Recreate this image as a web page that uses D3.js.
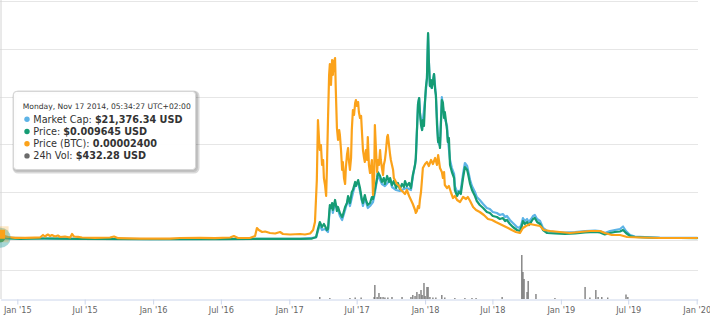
<!DOCTYPE html>
<html>
<head>
<meta charset="utf-8">
<script src="https://cdn.jsdelivr.net/npm/d3@7"></script>
<style>
  html, body { margin: 0; padding: 0; background: #fff; }
  svg { display: block; font-family: "DejaVu Sans", Verdana, sans-serif; }
</style>
</head>
<body>
<svg id="chart" width="710" height="318"></svg>
<script>
// ==== Data ====
// x values are days since the first point (2014-11-17)
const START = Date.UTC(2014, 10, 17);

// Market cap, thousand USD
const marketCap = [
  [0,21.37634],[133,13.0],[402,7.4],[805,11.1],[848,23.2],[853,83.4],[858,139],[864,92.7],[872,102],[880,74.2],
  [885,296.6],[891,315.2],[893,250.3],[899,343],[907,278.1],[912,222.5],[918,185.4],[926,278.1],[934,380.1],[939,315.2],
  [947,435.7],[953,509.9],[961,528.4],[966,454.2],[974,315.2],[979,389.3],[987,296.6],[993,315.2],[1001,352.3],[1006,435.7],
  [1014,602.6],[1025,519.1],[1033,500.6],[1047,556.2],[1052,491.3],[1063,463.5],[1073,454.2],[1084,472.8],[1092,482],[1103,463.5],
  [1108,584],[1116,741.6],[1122,1260.7],[1125,1316.3],[1127,1186.6],[1133,1019.7],[1135,1112.4],[1141,1297.8],[1146,1501.7],[1149,1909.6],
  [1151,1668.6],[1154,1427.6],[1159,1409],[1165,1538.8],[1170,1344.2],[1176,908.5],[1181,871.4],[1186,1325.6],[1192,1149.5],[1200,1056.8],
  [1202,945.5],[1208,741.6],[1213,667.4],[1219,611.8],[1221,500.6],[1227,445],[1237,463.5],[1243,611.8],[1248,713.8],[1254,686],
  [1262,556.2],[1267,500.6],[1275,445],[1280,398.6],[1288,370.8],[1297,333.7],[1307,296.6],[1315,287.4],[1323,259.6],[1334,250.3],
  [1342,231.8],[1350,241],[1356,213.2],[1361,222.5],[1369,185.4],[1377,157.6],[1388,120.5],[1396,111.2],[1401,157.6],[1404,203.9],
  [1409,176.1],[1415,194.7],[1420,166.9],[1426,194.7],[1431,222.5],[1436,231.8],[1442,194.7],[1450,176.1],[1458,111.2],[1469,83.4],
  [1490,74.2],[1517,69.5],[1544,74.2],[1571,83.4],[1598,88.1],[1611,83.4],[1624,64.9],[1638,83.4],[1651,92.7],[1665,102],
  [1673,125.1],[1681,83.4],[1692,46.4],[1705,32.4],[1732,27.8],[1772,22.2],[1872,20.4]
];

// Price, USD
const priceUsd = [
  [0,0.009645],[12,0.0063],[52,0.0050],[119,0.0063],[160,0.0059],[213,0.0042],[402,0.0033],[590,0.0033],[692,0.0050],[805,0.0050],
  [837,0.0059],[848,0.0126],[853,0.046],[858,0.0753],[864,0.0544],[869,0.0669],[872,0.0586],[877,0.0418],[880,0.046],[885,0.1464],
  [888,0.1339],[891,0.1548],[893,0.1255],[899,0.1674],[904,0.1213],[907,0.1381],[912,0.113],[918,0.0962],[920,0.1046],[926,0.1381],
  [931,0.1548],[934,0.1841],[939,0.1548],[944,0.2008],[947,0.2092],[953,0.2427],[955,0.2259],[961,0.251],[966,0.2176],[971,0.1674],
  [974,0.1548],[979,0.1883],[982,0.1674],[987,0.1464],[993,0.1548],[998,0.1799],[1001,0.1715],[1006,0.2092],[1012,0.2594],[1014,0.2845],
  [1020,0.2678],[1025,0.2427],[1030,0.2594],[1033,0.2343],[1039,0.2678],[1044,0.2427],[1047,0.2594],[1052,0.2301],[1057,0.2469],[1063,0.2176],
  [1068,0.2385],[1073,0.2134],[1079,0.2343],[1084,0.2218],[1087,0.2469],[1092,0.2259],[1098,0.2385],[1103,0.2176],[1108,0.272],[1114,0.3138],
  [1116,0.3431],[1122,0.569],[1125,0.5941],[1127,0.5356],[1130,0.4812],[1133,0.4602],[1135,0.5021],[1138,0.477],[1141,0.5858],[1143,0.636],
  [1146,0.6778],[1149,0.8661],[1151,0.7531],[1154,0.6443],[1157,0.6694],[1159,0.636],[1162,0.6611],[1165,0.6945],[1168,0.6276],[1170,0.6067],
  [1173,0.4812],[1176,0.41],[1178,0.4268],[1181,0.3849],[1184,0.5021],[1186,0.5858],[1189,0.5732],[1192,0.5104],[1194,0.5356],[1200,0.4602],
  [1202,0.41],[1205,0.4268],[1208,0.3138],[1213,0.2845],[1219,0.2594],[1221,0.2092],[1227,0.1841],[1232,0.2008],[1237,0.1925],[1243,0.2594],
  [1248,0.3054],[1254,0.2929],[1256,0.2803],[1262,0.2343],[1267,0.2092],[1275,0.1841],[1280,0.1632],[1288,0.1464],[1297,0.1339],[1307,0.1172],
  [1315,0.113],[1323,0.1004],[1334,0.0962],[1342,0.0879],[1350,0.092],[1356,0.0795],[1361,0.0837],[1369,0.0669],[1377,0.0544],[1388,0.0418],
  [1396,0.0377],[1401,0.0586],[1404,0.0795],[1409,0.0669],[1415,0.0753],[1420,0.0628],[1426,0.0753],[1431,0.0879],[1436,0.092],[1442,0.0753],
  [1450,0.0669],[1458,0.0418],[1469,0.0293],[1490,0.0272],[1517,0.0251],[1544,0.0272],[1571,0.0314],[1598,0.0335],[1611,0.0314],[1624,0.023],
  [1638,0.0293],[1651,0.0335],[1665,0.0356],[1673,0.0418],[1681,0.0293],[1692,0.0167],[1705,0.0126],[1732,0.0105],[1772,0.0084],[1826,0.0084],
  [1872,0.0075]
];

// Price in BTC, satoshi
const priceBtc = [
  [0,2400],[6,1883],[20,1255],[39,920],[66,920],[92,1004],[106,1046],[114,2092],[119,1464],[127,2301],
  [133,1674],[138,2092],[146,1464],[154,1883],[160,1255],[173,1464],[187,1046],[192,2510],[197,1464],[208,1339],
  [219,1046],[254,920],[294,1046],[305,1464],[316,753],[375,586],[455,586],[482,837],[536,920],[576,753],
  [617,1046],[627,1674],[638,837],[670,837],[684,1674],[689,5021],[694,4184],[703,3347],[711,3556],[724,2929],
  [738,2720],[751,3347],[759,2510],[778,2301],[805,2510],[818,2301],[832,2720],[840,4184],[845,7531],[850,25104],
  [853,50208],[856,41840],[858,37656],[861,39748],[864,31380],[867,33472],[869,25941],[872,23012],[875,18410],[877,29288],
  [880,50208],[883,69036],[885,73638],[888,64852],[891,75312],[893,69036],[896,74475],[899,76149],[901,62760],[904,46861],
  [907,41840],[910,46024],[912,43932],[915,37656],[918,29288],[920,32635],[923,25941],[926,23430],[928,30125],[931,35564],
  [934,38493],[936,33472],[939,29288],[942,34309],[944,46024],[947,54392],[950,52300],[953,57321],[955,58576],[958,56066],
  [961,57739],[963,53555],[966,51045],[969,51882],[971,46024],[974,37656],[977,34309],[979,32635],[982,37656],[985,33472],
  [987,43095],[990,31380],[993,28033],[996,30962],[998,33472],[1001,18828],[1004,25104],[1006,48116],[1009,37656],[1012,28451],
  [1014,33472],[1017,31380],[1020,37656],[1022,33472],[1025,30125],[1028,27196],[1030,31380],[1033,33472],[1036,37656],[1039,43095],
  [1041,43932],[1044,39748],[1047,35564],[1049,33472],[1052,31380],[1055,29288],[1057,25941],[1060,25104],[1065,23430],[1071,22594],
  [1076,20920],[1082,20083],[1087,19246],[1092,20920],[1098,18410],[1103,16736],[1108,15062],[1114,12552],[1116,11297],[1119,12134],
  [1122,14226],[1125,13389],[1127,16736],[1130,20083],[1133,25941],[1135,30125],[1141,31798],[1146,32635],[1151,30962],[1157,33472],
  [1162,31798],[1168,34309],[1173,31380],[1176,35564],[1178,33472],[1181,30125],[1186,28451],[1189,25941],[1192,28451],[1194,23012],
  [1200,21757],[1205,22594],[1211,19665],[1216,17573],[1221,18410],[1227,16736],[1235,15899],[1243,17991],[1251,17154],[1256,17991],
  [1262,16318],[1270,13807],[1278,12552],[1288,11715],[1299,10460],[1310,8786],[1321,8368],[1331,7531],[1342,6694],[1353,5858],
  [1364,5021],[1374,4184],[1385,3347],[1396,2929],[1404,5021],[1412,5858],[1423,6694],[1436,6276],[1450,5858],[1460,4184],
  [1477,3766],[1503,3347],[1530,2929],[1557,3347],[1584,3766],[1611,3766],[1624,2929],[1643,2092],[1665,2092],[1684,1255],
  [1719,1046],[1772,837],[1872,837]
];

// 24h volume, USD
const volume = [
  [0,432.28],[858,69000],[885,34000],[939,34000],[953,52000],[969,52000],[1004,69000],[1006,483000],[1012,69000],[1017,207000],
  [1022,69000],[1028,69000],[1033,52000],[1041,52000],[1052,69000],[1079,69000],[1103,69000],[1108,138000],[1114,103000],[1119,241000],
  [1125,172000],[1130,310000],[1133,138000],[1138,552000],[1141,103000],[1146,414000],[1149,414000],[1154,69000],[1162,52000],[1170,52000],
  [1186,138000],[1194,52000],[1221,34000],[1248,34000],[1267,34000],[1278,34000],[1348,69000],[1401,1517000],[1404,931000],[1407,690000],
  [1415,241000],[1418,621000],[1439,172000],[1490,34000],[1571,414000],[1584,52000],[1600,310000],[1606,69000],[1616,69000],[1632,52000],
  [1681,155000],[1686,69000]
];

const seriesNames = ["Market Cap", "Price", "Price (BTC)", "24h Vol"];
const seriesColors = ["#5db3e6", "#159c74", "#fba21a", "#6b6b6b"];
const tooltipHeader = "Monday, Nov 17 2014, 05:34:27 UTC+02:00";

// ==== Setup ====
const svg = d3.select("#chart");
const day = d => new Date(START + d * 864e5);

const x = d3.scaleUtc().domain([day(0), new Date(Date.UTC(2020, 0, 4))]).range([0.6, 697.8]);
const yMcap = d3.scaleLinear().domain([0, 2216]).range([240, 1]);
const yPrice = d3.scaleLinear().domain([0, 1]).range([240, 1]);
const yBtc = d3.scaleLinear().domain([0, 100000]).range([240, 1]);
const yVol = d3.scaleLinear().domain([0, 2e6]).range([299, 241]);

const crisp = v => Math.round(v) + 0.5;

// ==== Grid ====
const gGrid = svg.append("g");
gGrid.selectAll("line.main").data(yPrice.ticks(5)).join("line")
  .attr("x1", 0).attr("x2", 698)
  .attr("y1", d => crisp(yPrice(d))).attr("y2", d => crisp(yPrice(d)))
  .attr("stroke", "#e6e6e6");
gGrid.selectAll("line.vol").data([1e6]).join("line")
  .attr("x1", 0).attr("x2", 698)
  .attr("y1", d => crisp(yVol(d))).attr("y2", d => crisp(yVol(d)))
  .attr("stroke", "#e6e6e6");

// crosshair on hovered point
svg.append("line")
  .attr("x1", 1).attr("x2", 1).attr("y1", 0).attr("y2", 299)
  .attr("stroke", "#d4d4d4");

// ==== Volume ====
svg.append("g").selectAll("rect").data(volume).join("rect")
  .attr("x", d => x(day(d[0])) - 0.6)
  .attr("width", 1.2)
  .attr("y", d => yVol(d[1]))
  .attr("height", d => 299 - yVol(d[1]))
  .attr("fill", seriesColors[3]);

// ==== X axis ====
const xAxis = d3.axisBottom(x)
  .tickValues(d3.utcMonth.every(6).range(new Date(Date.UTC(2015, 0, 1)), new Date(Date.UTC(2020, 0, 2))))
  .tickFormat(d3.utcFormat("%b '%y"))
  .tickSize(5).tickSizeOuter(0).tickPadding(3);
const gx = svg.append("g").attr("transform", "translate(0,299.5)").call(xAxis);
gx.select(".domain").attr("stroke", "#ccd6eb");
gx.selectAll(".tick line").attr("stroke", "#ccd6eb");
gx.selectAll(".tick text").attr("fill", "#666").attr("font-size", 8.2)
  .attr("font-family", "DejaVu Sans, Verdana, sans-serif");

// ==== Lines ====
const lines = [
  { data: marketCap, y: yMcap, color: seriesColors[0] },
  { data: priceUsd, y: yPrice, color: seriesColors[1] },
  { data: priceBtc, y: yBtc, color: seriesColors[2] }
];
const gLines = svg.append("g");
for (const s of lines) {
  gLines.append("path")
    .datum(s.data)
    .attr("fill", "none")
    .attr("stroke", s.color)
    .attr("stroke-width", 2.2)
    .attr("stroke-linejoin", "round")
    .attr("stroke-linecap", "round")
    .attr("d", d3.line().x(d => x(day(d[0]))).y(d => s.y(d[1])));
}

// ==== Hover markers on first point ====
const gMark = svg.append("g");
[[marketCap[0], yMcap, 0], [priceUsd[0], yPrice, 1]].forEach(([d, ys, i]) => {
  const cx = x(day(d[0])), cy = ys(d[1]);
  gMark.append("circle").attr("cx", cx).attr("cy", cy).attr("r", 10)
    .attr("fill", seriesColors[i]).attr("opacity", 0.25);
  gMark.append("circle").attr("cx", cx).attr("cy", cy).attr("r", 4.5)
    .attr("fill", seriesColors[i]);
});
{
  const cx = x(day(priceBtc[0][0])), cy = yBtc(priceBtc[0][1]);
  gMark.append("rect").attr("x", cx - 8).attr("y", cy - 8).attr("width", 16).attr("height", 16)
    .attr("fill", seriesColors[2]).attr("opacity", 0.25);
  gMark.append("rect").attr("x", cx - 4.5).attr("y", cy - 4.5).attr("width", 9).attr("height", 9)
    .attr("fill", seriesColors[2]);
}

// ==== Tooltip ====
const tip = svg.append("g").attr("transform", "translate(13.5,91.5)");
for (let i = 3; i >= 1; i--) {
  tip.append("rect").attr("x", i * 0.5).attr("y", i * 0.5).attr("width", 182).attr("height", 78).attr("rx", 3)
    .attr("fill", "none").attr("stroke", "#000").attr("stroke-opacity", 0.05 * i).attr("stroke-width", i * 2 - 1);
}
tip.append("rect").attr("width", 182).attr("height", 78).attr("rx", 3)
  .attr("fill", "rgba(255,255,255,0.96)").attr("stroke", "#d6d6d6");

tip.append("text").attr("x", 9.2).attr("y", 17)
  .attr("font-size", 7.6).attr("fill", "#333").text(tooltipHeader);

const rows = [
  [seriesNames[0], "$" + d3.format(",.2f")(marketCap[0][1] * 1000) + " USD"],
  [seriesNames[1], "$" + d3.format(".6f")(priceUsd[0][1]) + " USD"],
  [seriesNames[2], (priceBtc[0][1] / 1e8).toFixed(8)],
  [seriesNames[3], "$" + d3.format(",.2f")(volume[0][1]) + " USD"]
];
rows.forEach(([name, val], i) => {
  const by = 31.2 + i * 12.2;
  tip.append("circle").attr("cx", 13.5).attr("cy", by - 3.4).attr("r", 2.7).attr("fill", seriesColors[i]);
  const t = tip.append("text").attr("x", 19.8).attr("y", by).attr("font-size", 9.7).attr("fill", "#333");
  t.append("tspan").text(name + ": ");
  t.append("tspan").attr("font-weight", "bold").text(val);
});
</script>
</body>
</html>
